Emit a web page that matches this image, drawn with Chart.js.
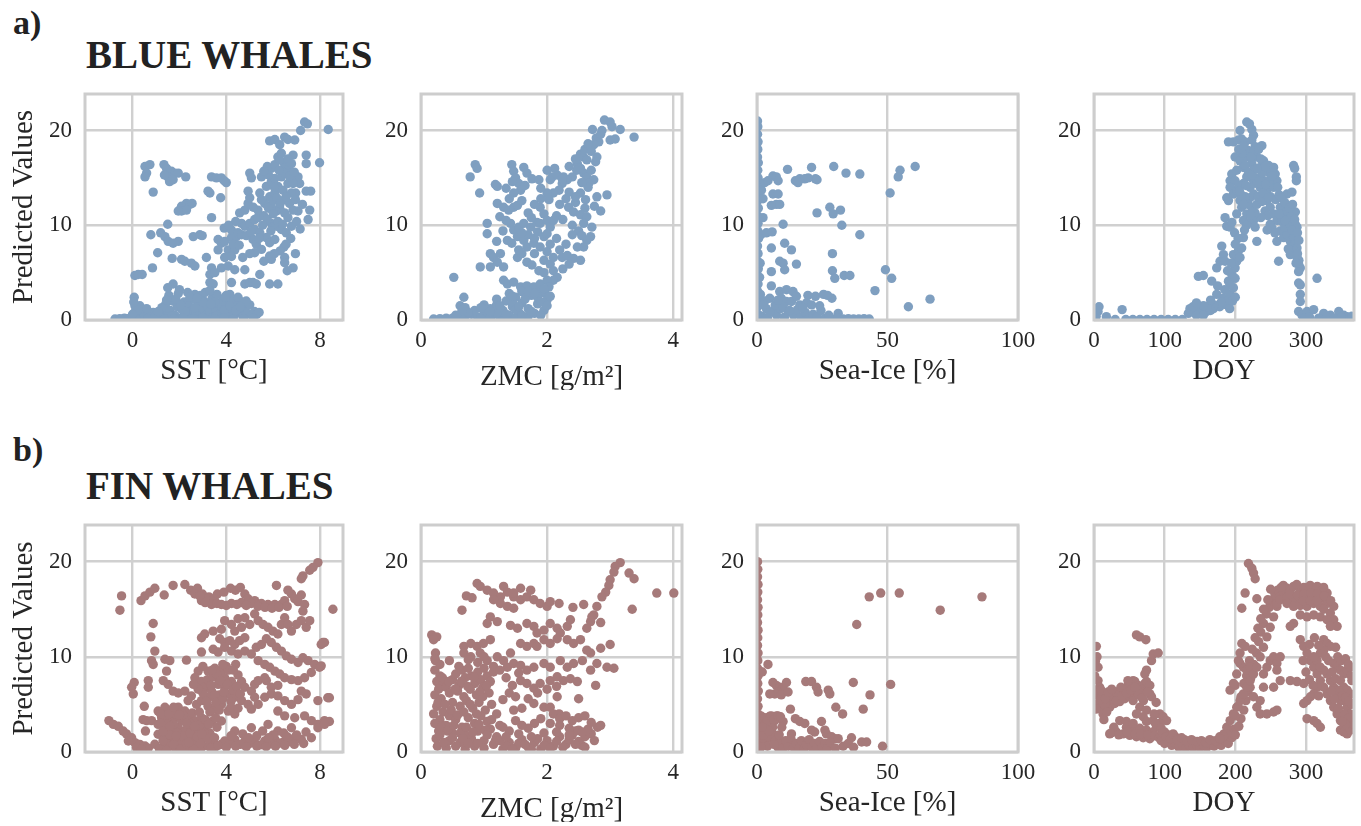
<!DOCTYPE html>
<html><head><meta charset="utf-8">
<script src="https://cdn.jsdelivr.net/npm/chart.js@4.4.0/dist/chart.umd.min.js"></script>
<style>
html,body{margin:0;padding:0;background:#fff;width:1361px;height:826px;overflow:hidden;position:relative;font-family:'Liberation Serif','Times New Roman',serif;color:#222}
.h{position:absolute;font-weight:bold;line-height:1;white-space:nowrap;color:#222}
.box{position:absolute}
</style></head><body>
<div class="h" style="left:13px;top:6px;font-size:34px">a)</div>
<div class="h" style="left:86px;top:35px;font-size:39px">BLUE WHALES</div>
<div class="h" style="left:13px;top:433px;font-size:34px">b)</div>
<div class="h" style="left:86px;top:466px;font-size:39px">FIN WHALES</div>
<script>
// ---------- tick labels & axis texts ----------
const yTicks = [0, 10, 20];
const sstTicks = [0, 4, 8];
const zmcTicks = [0, 2, 4];
const iceTicks = [0, 50, 100];
const doyTicks = [0, 100, 200, 300];
const xLabels = ['SST [°C]', 'ZMC [g/m²]', 'Sea-Ice [%]', 'DOY'];
const yLabel = 'Predicted Values';

// ---------- BLUE WHALES ----------
const blueSST = [[8.35,20.1],[7.34,20.9],[7.46,20.7],[7.17,20.0],[5.85,18.9],[6.07,19.05],[6.49,19.3],[6.63,19.05],[6.92,19.0],[6.28,18.5],[6.2,17.2],[6.85,17.4],[7.41,17.4],[7.41,16.5],[7.98,16.6],[5.75,16.2],[5.92,16.0],[6.49,16.4],[6.63,15.8],[5.0,15.5],[5.07,15.0],[5.5,15.1],[7.06,15.1],[7.13,14.4],[7.41,13.6],[7.6,13.6],[7.56,11.6],[7.49,10.6],[6.96,13.4],[7.06,11.5],
[0.53,16.2],[0.74,16.4],[0.6,15.5],[0.53,15.1],[0.88,13.5],[1.34,16.4],[1.45,16.0],[1.66,15.7],[1.8,15.5],[1.95,15.5],[1.51,15.1],[1.58,14.6],[1.73,14.8],[1.36,15.3],[2.27,15.1],[3.37,15.1],[3.58,15.0],[3.79,15.0],[3.91,14.7],[4.0,14.5],[3.76,12.9],[3.3,13.4],[3.22,13.6],[2.09,12.0],[2.3,12.3],[2.44,12.2],[2.54,12.3],[2.09,11.5],[2.3,11.6],[1.95,11.5],[3.37,10.8],[1.5,10.1],[0.78,9.0],[1.2,9.2],[1.38,8.8],[1.52,8.3],[1.73,8.1],[1.95,8.3],[2.59,8.8],[2.87,9.0],[2.97,8.9],[1.07,7.1],[1.69,6.5],[2.09,6.4],[2.23,6.2],[2.51,6.0],[2.66,5.7],[0.85,5.5],[0.1,4.7],[0.24,4.8],[0.41,4.8],[3.15,6.6],[3.37,5.5],[3.91,9.7],[3.65,8.5],[3.79,8.1],[3.93,8.3],[4.22,8.7],[4.43,8.8],[3.65,7.4],[4.08,7.4],[4.36,7.4],[3.93,6.6],[4.22,6.7],[3.79,5.5],[4.08,5.7],[4.36,5.3],[3.3,4.8],[3.51,5.0],[3.3,3.95],[3.44,3.8],[4.22,3.95],[1.73,3.8],[4.15,2.7],[2.66,2.7],[4.79,5.3],[4.79,3.8],[5.0,3.95],[5.14,3.95],[5.28,3.8],[5.43,4.8],[5.85,3.8],[6.2,3.8],[5.85,6.75],[5.92,6.4],[6.49,6.6],[6.49,6.05],[6.85,5.5],[6.46,7.7],[5.71,8.7],[5.85,8.15],[6.07,8.5],
[4.57,11.3],[4.79,11.6],[4.93,12.3],[5.0,12.9],[4.93,13.6],[4.65,10.2],[4.79,9.9],[5.0,10.2],[5.21,10.6],[5.35,10.8],[4.22,9.5],[4.5,9.2],[4.65,9.0],[5.14,8.5],[5.28,8.0],[5.5,7.45],[5.21,7.1],[5.21,9.55],[5.43,9.2],[5.92,10.2],[6.14,9.9],[6.35,9.55],[6.56,9.2],[6.78,9.9],[5.64,12.3],[5.85,13.0],[6.07,13.4],[6.2,14.1],[6.42,13.7],[6.63,14.4],[6.78,14.8],[5.71,14.1],[5.92,14.6],[6.07,14.95],[6.35,15.1],[6.49,15.5],[5.43,13.4],[5.5,12.7],[6.49,12.7],[6.7,12.3],[6.85,11.6],[5.92,12.0],[6.14,11.5],[6.28,11.8],[6.49,11.3],[6.63,10.8],[6.78,13.4],[6.85,14.4],[6.07,16.4],[6.28,16.9],[6.63,17.0],[6.78,16.5],[6.35,17.6],
[5.6,11.0],[5.75,10.6],[5.8,11.8],[6.0,12.6],[6.15,12.9],[6.3,12.3],[6.0,11.2],[5.55,10.0],[5.9,9.4],[6.2,10.4],[6.4,10.1],[6.55,13.0],[6.7,15.2],[6.9,15.6],[6.05,14.0],[5.8,15.3],[5.6,15.7],[6.25,15.8],[5.35,11.6],[5.15,11.9],[4.4,10.4],[4.1,10.0],[4.3,8.0],[4.85,8.9],[5.05,9.3],[5.4,8.6],[5.0,7.0],[4.7,6.6],[4.55,7.9],[6.95,12.7],[7.25,12.2],[7.0,10.4],[7.15,9.6],[6.75,8.6],[6.55,8.0],[6.95,7.0],[6.3,7.3],[6.05,7.0],[6.6,5.2],[5.6,6.2],
[-0.75,0.1],[-0.55,0.15],[-0.35,0.2],[-0.2,0.15],[-0.05,0.3],[0.07,2.4],[0.1,1.5],[0.31,1.5],[0.1,0.8],[0.53,0.6],[0.88,0.8],[0.2,0.4],[0.4,0.9],[0.6,1.2],[0.25,1.1],[0.75,0.3],[1.0,0.5],
[1.3,0.8],[1.4,1.6],[1.5,0.3],[1.6,1.0],[1.7,2.0],[1.8,0.5],[1.9,1.4],[2.0,0.2],[2.1,1.1],[2.2,1.9],[2.3,0.6],[2.4,1.5],[2.5,0.3],[2.55,1.0],[2.6,2.2],[2.7,0.7],[2.8,1.6],[2.9,0.4],[3.0,1.2],[3.05,2.0],[3.15,0.5],[3.2,1.4],[3.3,0.9],[3.4,2.3],[3.45,0.3],[3.55,1.1],[3.6,1.8],[3.7,0.6],[3.8,1.4],[3.85,2.2],[3.95,0.8],[4.0,1.7],[4.1,0.4],[4.2,1.2],[4.3,2.0],[4.35,0.6],[4.45,1.5],[4.55,0.9],[4.65,1.9],[4.7,0.4],[4.8,1.2],[4.9,0.7],[5.0,1.6],[5.1,0.5],[5.2,0.9],[5.3,0.6],[5.4,0.8],[1.55,2.6],[1.95,2.8],[2.35,2.9],[2.9,2.6],[3.1,2.9],[3.6,2.7],[4.0,2.6],[4.5,2.4],[2.25,0.9],[2.65,1.3],[3.55,0.4],[3.9,1.0],[1.2,0.3],[1.65,0.4],[4.15,1.5],[2.0,3.2],[1.5,3.4],[3.3,3.1],
[1.35,0.1],[1.75,0.15],[2.15,0.2],[2.6,0.15],[3.0,0.25],[3.5,0.15],[3.9,0.2],[4.3,0.1],[4.75,0.15],[5.15,0.2],[1.25,1.3],[1.85,2.2],[2.45,2.4],[3.0,1.9],[3.5,1.9],[3.95,2.4],[4.4,1.0],[4.85,2.0],[2.05,1.6],[2.75,2.3],[3.35,1.7],[4.6,1.4],[1.45,2.1],[0.45,0.2],[0.65,0.15],[0.9,0.1],[1.1,0.9],[0.15,0.1],[-0.5,0.05],[0.0,0.6],[0.05,1.9]];

const blueZMC = [[2.91,21.1],[3.0,20.9],[3.03,20.4],[2.72,20.1],[2.87,20.0],[3.16,20.1],[3.38,19.3],[2.78,19.2],[2.82,18.8],[2.74,18.5],[3.0,19.0],[3.08,19.1],[2.53,17.5],[2.58,17.2],[2.63,16.9],[2.48,16.5],[2.53,16.0],[2.58,15.5],[2.63,15.1],[2.74,14.8],[2.66,14.4],[2.79,17.2],[2.77,16.7],[2.47,15.8],[2.4,15.1],[2.32,14.8],[2.26,15.1],[2.24,14.4],[2.19,13.7],[2.1,13.4],[2.95,13.2],[2.79,13.0],[2.65,14.0],[2.53,13.4],[2.61,12.7],[2.34,11.9],[2.42,11.4],[2.53,11.1],[2.63,10.9],[2.58,10.2],[2.71,9.8],[2.69,8.8],[2.63,8.4],[2.58,7.7],[2.48,7.7],[0.86,16.4],[0.89,16.0],[0.78,15.1],[0.93,13.4],[1.18,14.3],[1.21,14.1],[1.44,16.4],[1.47,15.7],[1.5,15.0],[1.63,16.1],[1.68,15.5],[1.76,14.9],[1.87,14.8],[1.55,14.4],[1.58,13.7],[1.47,13.4],[1.21,12.3],[1.31,11.9],[1.39,11.6],[1.47,11.9],[1.53,12.1],[1.05,10.2],[1.05,9.1],[1.42,10.2],[1.47,9.5],[1.55,9.8],[1.63,10.2],[1.74,9.8],[1.84,10.3],[1.89,10.2],[1.37,8.4],[1.44,8.1],[1.53,8.8],[1.63,8.4],[1.68,7.7],[1.79,8.1],[1.89,7.7],[1.95,8.8],[1.89,11.9],[1.95,11.2],[2.0,10.5],[2.05,9.8],[2.1,10.5],[2.0,9.1],[2.0,13.4],[2.03,12.7],[2.05,14.8],[2.08,15.1],[2.16,15.3],[2.24,14.9],[1.1,7.0],[1.15,6.6],[1.26,7.0],[1.21,6.1],[1.31,5.6],[0.94,5.6],[1.1,5.6],[0.52,4.5],[0.68,2.4],[0.62,1.5],[1.53,6.6],[1.6,7.0],[1.68,6.1],[1.76,5.8],[1.87,5.2],[1.95,6.3],[2.05,5.9],[2.1,5.2],[2.24,6.6],[2.32,6.8],[2.42,6.5],[2.53,6.3],[2.16,4.5],[2.1,4.2],[1.31,4.2],[1.37,3.8],[1.47,4.0],[1.58,3.5],[1.68,3.6],[1.79,3.5],[1.89,3.8],[2.0,4.2],[2.03,3.5],[1.97,2.8],
[2.2,12.2],[2.3,12.8],[2.45,12.4],[2.35,13.5],[2.15,11.0],[2.25,10.6],[2.4,10.0],[2.5,9.4],[2.55,8.9],[2.4,9.0],[2.3,8.0],[2.2,7.4],[2.15,8.6],[2.05,8.0],[1.7,9.0],[1.8,8.6],[1.85,9.3],[1.6,9.2],[1.75,10.8],[1.7,11.3],[1.8,12.2],[1.9,12.8],[1.6,12.6],[1.4,12.8],[1.35,13.9],[1.45,14.6],[1.65,14.2],[1.9,13.9],[2.12,16.0],[2.0,15.8],[2.35,16.2],[2.45,17.0],[2.6,18.0],[2.7,17.8],[2.65,18.6],[2.85,19.6],[2.7,15.8],[2.55,14.5],[2.45,13.0],[2.75,12.0],[2.85,11.5],[2.6,11.8],[1.25,10.9],[1.35,10.5],[1.3,9.4],[1.2,8.3],[1.55,7.4],[1.8,7.0],[2.0,7.2],[2.1,6.6],[1.95,5.0],[2.25,5.4],[2.35,5.9],
[0.2,0.1],[0.3,0.15],[0.4,0.2],[0.5,0.2],[0.6,0.3],[0.7,0.4],[0.8,0.6],[0.9,0.3],[1.0,0.8],[1.05,0.4],[1.1,1.2],[1.15,0.6],[1.2,1.6],[1.25,0.3],[1.3,1.0],[1.35,2.0],[1.4,0.5],[1.45,1.4],[1.5,2.4],[1.55,0.8],[1.6,1.8],[1.65,0.3],[1.7,1.2],[1.75,2.6],[1.8,0.7],[1.85,1.7],[1.9,3.0],[1.95,1.0],[2.0,2.1],[1.6,3.0],[1.4,2.8],[1.2,2.2],[1.0,1.6],[0.85,1.0],[0.7,1.3],[1.3,0.2],[1.5,0.2],[1.7,0.4],[1.9,0.5],[1.85,2.4],[1.65,2.2],[1.45,1.9],
[0.95,0.15],[1.1,0.2],[1.2,0.7],[1.35,0.6],[1.5,1.1],[1.6,0.5],[1.75,0.9],[1.9,1.9],[2.0,1.5],[1.45,2.5],[1.7,3.0],[1.8,2.8],[1.95,3.3],[2.05,2.5],[1.55,1.4],[1.25,1.5],[1.1,0.9],[0.95,1.3],[0.75,0.8],[0.65,1.0],[0.55,0.5]];

const blueIce = [[0.2,21.0],[0.3,20.4],[0.2,19.6],[0.4,18.8],[0.3,18.0],[0.2,17.2],[0.5,16.6],[0.3,15.8],[0.4,15.0],[0.2,14.2],[0.6,13.4],[0.3,12.6],[0.5,11.8],[0.2,11.0],[0.4,10.2],[0.3,9.4],[0.6,8.6],[0.2,7.8],[0.4,7.0],[0.3,6.2],[0.5,5.4],[0.2,4.6],[0.4,3.8],[0.3,3.0],[0.5,2.2],[0.2,1.4],[0.4,0.6],[0.3,0.2],[1.7,13.7],[2.3,12.8],[2.3,10.8],[1.5,9.0],[1.2,6.0],[1.0,4.5],[1.3,2.7],
[11.7,15.9],[2.9,14.5],[4.2,14.7],[6.1,15.2],[7.4,15.1],[8.1,14.7],[20.9,16.1],[22.4,14.9],[23.0,14.8],[14.7,14.7],[16.4,14.9],[18.3,14.9],[19.6,15.0],[15.7,14.5],[29.4,16.2],[34.1,15.5],[39.4,15.4],[54.8,15.8],[54.1,15.1],[60.6,16.2],[51.0,13.4],[6.1,13.3],[8.1,13.3],[5.5,12.1],[7.4,12.2],[8.7,12.2],[3.6,9.2],[5.8,9.3],[10.0,10.1],[23.0,11.3],[27.9,11.9],[29.2,11.2],[32.0,11.6],[32.5,10.0],[39.4,9.0],[5.5,7.6],[10.6,8.1],[13.2,7.4],[8.7,6.2],[10.0,6.0],[10.6,5.3],[5.5,5.1],[15.1,5.9],[28.9,7.0],[28.9,5.2],[29.8,4.4],[33.4,4.7],[35.6,4.7],[49.2,5.3],[51.6,4.4],[5.5,3.6],[45.2,3.1],[66.3,2.2],[58.0,1.4],[8.7,3.0],[11.3,3.2],[13.8,3.0],[9.3,2.3],[11.3,1.95],[13.2,1.95],[15.1,2.5],[16.4,1.6],[19.0,1.8],[20.9,1.6],[22.4,2.5],[25.5,2.7],[28.7,2.3],[31.1,0.7],[4.9,2.3],[6.1,0.9],[3.6,1.2],
[2.0,0.4],[4.0,0.2],[7.5,0.5],[9.0,1.2],[10.5,0.3],[12.0,0.9],[14.0,0.5],[15.5,1.1],[17.0,0.3],[18.5,0.8],[20.0,0.2],[21.5,0.6],[23.0,0.3],[24.5,1.0],[26.0,0.2],[27.5,0.5],[29.0,0.1],[31.0,0.2],[33.0,0.1],[35.0,0.15],[37.0,0.1],[39.0,0.1],[41.0,0.15],[43.0,0.1],[3.0,2.0],[7.0,1.6],[10.0,1.4],[12.5,1.0],[17.5,1.3],[19.5,2.6],[24.0,1.5],[27.0,2.6],[5.0,0.8],[8.0,2.1],[2.5,1.6]];

const blueDOY = [[7.1,1.4],[5.7,0.9],[3,0.4],[17.5,0.35],[39.8,1.1],[30,0.05],[45,0.05],[55,0.05],[65,0.05],[75,0.05],[85,0.05],[95,0.05],[105,0.05],[115,0.05],[125,0.05],[2,0.2],
[135.8,1.2],[140.6,0.9],[150,1.1],[159.5,0.9],[169,1.2],[178,1.4],[187.9,1.6],[133.5,0.7],[145,0.5],[154.8,0.5],[147.7,4.6],[154.8,4.7],[166.6,4.1],[173.7,5.5],[178.4,6.2],[183.2,6.9],[185.5,6.2],[180.8,7.8],[173.7,2.7],[183.2,2.3],[187.9,1.95],[192.6,2.7],[197.3,3.4],[190.3,4.1],[195,4.8],[199.7,5.5],[202,6.2],[197.3,6.9],[204.4,7.3],[206.7,6.6],[209,7.6],[199.7,4.4],[192.6,3.7],[185.5,10.8],[187.9,9.9],[192.6,9.8],[187.9,12.9],[190.3,12.6],[192.6,14.7],[190.3,18.8],[197.3,18.8],[204.4,19.0],[206.7,20.0],[216.2,20.9],[220,20.7],[223.4,20.1],[225.8,19.5],[223.4,19.0],[209,19.1],[213.9,18.8],[228.1,18.3],[237.6,18.4],[199.7,17.2],[206.7,16.8],[211.5,16.1],[216.2,17.2],[202,15.8],[195,15.4],[199.7,14.7],[192.6,14.0],[197.3,13.3],[202,13.7],[206.7,12.6],[209,11.9],[202,11.2],[211.5,10.5],[216.2,11.2],[225.8,10.5],[223.4,11.9],[230.5,12.2],[221,12.9],[211.5,8.7],[230.5,8.3],[223.4,16.5],[230.5,17.2],[235.2,16.1],[240,16.8],[244.7,15.8],[249.4,15.4],[240,14.7],[235.2,14.0],[244.7,13.7],[254.2,14.0],[258.9,14.7],[256.5,15.4],[254.2,16.1],[247.1,16.3],[225.8,14.7],[230.5,14.4],[221,14.0],[216.2,15.1],[211.5,14.4],[244.7,12.6],[249.4,11.9],[254.2,11.2],[258.9,10.5],[249.4,10.1],[263.6,11.9],[268.4,11.2],[273.1,11.5],[273.1,13.3],[280.2,13.5],[282.5,16.3],[284,16.0],[286.4,15.1],[286.4,14.7],[258.9,8.3],[261.3,6.2],[263.6,9.4],[268.4,8.7],[273.1,9.0],[277.8,8.3],[282.5,8.7],[284.9,8.0],[287.3,7.6],[282.5,7.3],[277.8,6.9],[287.3,6.6],[289.6,5.9],[292,5.5],[284.9,10.1],[287.3,9.8],[289.6,5.1],[289.6,3.9],[292,3.7],[292,2.7],[292,1.95],[289.6,0.9],[294.4,0.5],[315.7,4.4],[301.5,0.9],[310.9,1.1],[325.1,0.7],[334.6,0.5],[346.4,0.9],[353.5,0.5],[358.3,0.35],[298,0.2],[305,0.3],[318,0.2],[330,0.3],[340,0.2],[350,0.25],[362,0.2],[365,0.4],
[214,13.0],[218,12.2],[226,13.3],[232,13.0],[238,12.5],[242,11.5],[246,11.0],[236,10.8],[228,11.3],[220,10.3],[214,16.3],[219,15.6],[228,15.9],[233,15.0],[238,15.5],[250,13.0],[257,12.7],[262,13.2],[266,10.4],[270,9.8],[276,10.2],[280,9.5],[285,11.4],[252,9.7],[256,9.2],[245,9.5],[218,17.9],[226,17.8],[233,18.0],[210,17.6],[205,14.2],[208,13.2],[195,10.3],[199,9.2],[204,8.6],[200,8.0],[194,6.0],[189,5.2],[185,3.2],[180,1.9],[170,1.6],[165,1.0],[160,1.4],[175,3.6],[165,2.1],[155,1.5],[140,1.4],[145,1.8],[192,1.2],[196,2.0],[200,2.4],
[205,18.0],[212,18.4],[222,17.2],[236,17.0],[242,16.2],[248,14.7],[252,15.2],[260,14.0],[265,12.9],[270,12.4],[276,11.8],[281,12.2],[279,10.9],[284,10.6],[288,9.2],[290,8.4],[288,7.0],[290,6.3],[286,6.0],[275,7.5],[270,10.5],[262,11.2],[215,14.2],[224,15.3],[231,16.0],[239,13.4],[243,14.3],[247,12.9],[206,13.6],[212,12.2],[216,10.0],[222,11.1],[228,9.8],[213,9.5]];

// ---------- FIN WHALES ----------
const finSST = [[7.91,19.9],[7.7,19.4],[7.56,19.1],[7.27,18.5],[7.2,18.2],[8.55,15.0],[-0.47,16.4],[-0.54,14.9],[0.36,15.9],[0.53,16.4],[0.74,16.8],[0.95,17.2],[1.35,16.5],[1.73,17.5],[2.23,17.6],[0.88,13.5],[0.78,12.1],[0.95,10.6],[0.81,9.6],[0.88,9.2],[1.38,9.75],[1.59,9.6],[1.45,8.5],[2.3,9.65],[2.8,8.5],[0.07,7.3],[-0.04,6.8],[0.03,6.1],[0.67,7.5],[0.67,6.8],[1.31,7.5],[1.52,7.1],[1.73,6.4],[1.95,6.2],[0.5,4.8],[0.45,3.4],[0.6,3.3],[0.81,3.3],[0.55,2.2],[-1.01,3.3],[-0.82,2.9],[-0.61,2.7],[-0.4,2.2],[-0.26,1.9],[-0.04,1.5],[0.1,0.98],[0.31,0.8],[0.53,0.63],[0.67,0.39],[-0.18,1.16],[0.17,0.46],[0.38,0.28],
[2.48,17.0],[2.77,17.2],[2.98,16.6],[3.26,16.3],[3.48,16.1],[3.62,16.6],[3.9,16.8],[4.18,17.2],[4.39,17.0],[4.6,17.3],[4.79,16.6],[4.93,16.1],[5.21,15.9],[5.5,15.6],[5.78,15.5],[6.07,15.5],[6.35,15.5],[6.49,15.9],[6.78,16.6],[6.14,17.5],[6.63,17.0],[6.92,16.1],[7.06,15.8],[7.2,16.5],[7.34,15.5],[7.27,14.8],[2.94,15.9],[3.37,15.5],[3.79,15.5],[4.22,15.6],[4.65,15.7],[5.07,15.6],[2.66,16.6],[2.87,16.4],[3.1,15.7],[3.6,15.6],[4.0,15.4],[4.45,15.5],[4.85,15.4],[5.35,15.3],[5.65,15.2],[5.95,15.1],[6.25,15.2],[6.6,15.3],
[2.94,12.0],[3.08,12.4],[3.44,12.7],[3.79,12.9],[3.93,13.8],[4.22,13.4],[4.5,14.0],[4.79,14.1],[5.0,13.4],[4.65,13.1],[4.36,12.7],[5.21,14.5],[5.36,13.8],[5.57,13.4],[5.78,13.1],[5.99,12.7],[6.2,12.4],[6.35,13.4],[6.49,14.1],[6.63,13.4],[6.78,12.7],[6.99,13.4],[7.2,13.8],[7.41,13.1],[7.56,13.8],[3.72,11.9],[3.93,11.5],[4.15,11.7],[4.36,11.3],[4.57,11.7],[4.79,12.0],[3.44,10.8],[3.65,10.5],[3.93,11.0],[4.22,10.6],[4.5,10.3],[4.79,10.6],[5.07,10.3],[2.94,10.5],[5.28,11.0],[5.5,11.3],[5.71,11.9],[5.92,11.5],[6.14,11.0],[6.35,10.6],[6.56,10.1],[6.78,9.75],[7.06,9.4],[7.27,9.9],[7.49,9.6],[7.77,9.2],[8.05,11.3],[8.19,11.5],[5.36,9.6],[5.64,9.2],[5.85,8.9],[6.07,8.5],[6.28,8.2],[6.49,7.8],[6.78,7.6],[7.06,7.5],[7.34,7.8],[7.63,8.35],[7.98,8.9],[5.71,7.5],[5.92,6.8],[6.2,7.0],[7.2,6.4],[7.41,6.1],[7.06,5.5],[7.91,5.4],[8.33,5.7],
[2.66,7.8],[2.94,7.4],[3.22,8.5],[3.51,8.8],[3.79,8.5],[3.93,7.8],[4.22,7.4],[4.5,8.1],[4.65,7.4],[4.79,6.8],[5.07,6.4],[5.21,7.1],[5.36,7.5],[5.64,7.8],[3.08,6.8],[3.37,6.4],[3.65,7.1],[3.93,6.8],[4.08,6.1],[4.36,5.75],[4.65,5.4],[4.93,5.0],[5.07,4.5],[5.21,5.75],[5.36,5.0],[5.64,5.75],[5.92,6.1],[6.2,5.9],[6.49,5.4],[6.78,5.0],[2.23,6.4],[2.51,5.9],[2.37,5.4],[2.73,5.0],[2.94,5.4],[3.22,4.8],[3.51,4.5],[3.79,5.0],[4.08,4.3],[4.36,4.0],[3.2,7.6],[3.45,7.9],[3.7,6.0],[3.85,5.6],[3.3,5.8],[3.6,8.2],[4.0,9.0],[4.4,9.2],[4.1,8.6],[3.0,9.0],
[6.2,4.3],[6.49,3.8],[6.92,3.6],[7.34,3.8],[7.63,3.3],[7.91,2.9],[8.19,3.3],[8.4,3.2],[8.12,11.5],[8.05,9.05],[8.4,5.7],
[1.09,4.3],[1.38,4.7],[1.66,4.3],[1.95,4.7],[2.23,4.3],[1.24,3.6],[1.52,3.3],[1.8,3.6],[2.09,3.3],[2.37,3.6],[2.66,3.3],[2.94,3.6],[1.09,2.9],[1.38,2.55],[1.66,2.2],[1.95,2.55],[2.23,2.2],[2.51,2.55],[2.8,2.2],[3.08,2.55],[1.09,1.86],[1.38,1.5],[1.66,1.16],[1.95,1.5],[2.23,1.16],[2.51,1.5],[2.8,1.16],[3.08,1.5],[3.37,1.16],[0.95,0.81],[1.24,0.46],[1.52,0.81],[1.8,0.46],[2.09,0.81],[2.37,0.46],[2.66,0.81],[2.94,0.46],[3.22,0.63],[3.51,0.46],[3.79,0.81],[1.2,3.0],[1.5,2.0],[1.75,2.9],[2.0,1.0],[2.15,3.9],[2.45,3.0],[2.7,1.8],[2.9,2.9],[3.3,2.0],[3.4,3.2],[3.6,2.6],[1.45,3.9],[1.85,4.0],
[3.93,1.16],[4.36,1.33],[4.79,1.16],[5.21,0.98],[5.64,1.16],[6.07,1.33],[6.49,1.16],[6.92,1.5],[7.2,1.33],[7.63,1.5],[7.91,2.55],[8.19,2.9],[4.36,2.2],[5.07,2.55],[5.78,2.9],[6.2,2.2],[6.78,2.55],[3.79,3.26],[4.15,0.9],[4.6,0.8],[5.0,0.9],[5.45,0.75],[5.9,0.85],[6.3,0.95],[6.7,1.1],[7.0,1.8],[7.4,2.1],[4.7,1.9],[5.3,1.7],[5.55,2.2],[6.0,1.8],[6.45,2.0],
[1.15,0.3],[1.3,1.2],[1.45,0.2],[1.6,1.8],[1.75,0.8],[1.9,2.0],[2.05,0.3],[2.15,1.7],[2.3,0.9],[2.45,2.0],[2.6,0.3],[2.75,1.6],[2.9,0.9],[3.05,2.0],[3.2,1.4],[3.35,0.4],[3.5,1.5],[3.65,0.7],[1.2,4.0],[1.55,4.0],[1.75,4.7],[2.0,3.9],[2.3,3.0],[2.55,4.1],[2.85,4.2],[3.1,3.4],[3.3,4.2],[3.55,3.6],[3.7,4.4],[1.3,2.2],[1.6,2.7],[1.85,1.7],[2.4,1.0],[2.65,2.7],[2.95,1.9],[3.25,2.9],
[3.0,6.2],[3.15,5.3],[3.35,7.0],[3.5,6.0],[3.55,5.2],[3.75,7.5],[3.9,6.3],[4.05,7.1],[4.2,5.3],[4.3,6.5],[4.45,6.9],[4.6,6.1],[4.2,4.7],[4.5,4.6],[3.4,8.6],[3.85,9.2],[4.3,8.6],[2.8,6.6],[2.6,7.1],
[4.0,0.5],[4.4,0.6],[4.85,0.55],[5.3,0.6],[5.7,0.55],[6.1,0.6],[6.5,0.7],[6.9,0.8],[7.3,0.9],[4.2,1.7],[4.95,1.5],[5.8,1.5],[6.6,1.6]];

const finZMC = [[3.16,19.9],[3.08,19.5],[3.06,18.9],[3.0,18.1],[2.98,17.5],[2.93,16.8],[2.87,16.3],[2.79,15.3],[2.74,14.4],[2.69,13.7],[2.63,13.0],[3.3,18.8],[3.38,18.2],[3.35,15.0],[3.74,16.7],[4.01,16.7],[2.41,15.2],[2.58,15.5],[2.71,14.2],[2.85,13.6],[3.0,11.3],[2.85,10.9],[2.69,10.4],[2.56,9.6],[2.79,9.3],[2.95,8.9],[3.06,8.8],[2.69,8.6],[2.63,10.7],[2.77,7.0],[0.17,12.3],[0.25,12.1],[0.23,10.4],[0.23,9.6],[0.65,14.9],[0.72,16.4],[0.81,16.2],[0.89,17.7],[0.94,17.4],[1.05,17.0],[1.15,16.7],[1.26,16.3],[1.31,17.4],[1.37,16.8],[1.47,16.3],[1.58,16.0],[1.68,16.3],[1.79,16.0],[1.74,17.0],[1.58,17.2],[1.47,16.7],[1.89,15.6],[2.0,15.3],[2.05,15.8],[1.26,15.6],[1.37,15.3],[1.47,15.1],[1.15,16.0],[2.19,15.6],[1.1,14.2],[1.21,13.7],[1.05,13.5],[1.42,13.3],[1.53,13.0],[1.68,13.5],[1.79,13.2],[1.84,12.5],[1.95,12.8],[2.05,13.5],[2.16,13.0],[2.21,12.5],[2.32,13.2],[2.37,13.9],[1.58,11.4],[1.68,11.1],[1.79,11.4],[1.84,11.1],[1.95,11.8],[2.05,11.4],[2.16,11.9],[2.32,11.8],[2.42,11.4],[2.53,11.8],[0.68,11.1],[0.79,11.4],[0.89,11.1],[0.99,11.4],[1.1,11.8],[0.68,10.4],[0.79,10.0],[0.94,10.4],[1.05,9.6],[1.21,10.0],[1.31,9.6],[1.42,10.4],[1.37,8.9],[1.47,9.3],[1.58,9.1],[1.68,8.6],[1.79,8.9],[1.95,9.3],[2.05,8.9],[2.21,9.6],[2.32,8.9],[2.42,9.3],[1.58,7.5],[1.68,7.2],[1.79,6.7],[1.89,7.2],[2.05,7.5],[2.16,7.9],[2.26,7.5],[2.37,7.7],[2.48,7.4],[1.47,4.4],[1.79,5.1],[1.95,4.7],[2.05,4.7],[2.16,5.8],[2.19,4.0],[2.5,5.6],
[0.22,8.6],[0.3,8.0],[0.25,7.4],[0.35,7.2],[0.28,6.6],[0.4,6.8],[0.22,6.0],[0.32,5.6],[0.45,6.2],[0.5,7.6],[0.55,8.2],[0.6,7.0],[0.65,8.6],[0.7,7.8],[0.75,8.8],[0.8,8.0],[0.85,7.2],[0.9,8.4],[0.95,7.6],[1.0,8.8],[1.05,8.0],[1.1,7.4],[1.15,8.4],[0.58,6.4],[0.68,5.8],[0.78,6.6],[0.88,6.0],[0.98,6.8],[1.08,6.2],[0.5,5.2],[0.62,4.8],[0.72,5.4],[0.82,4.6],[0.92,5.2],[1.02,4.4],[0.25,4.8],[0.35,4.2],[0.45,3.8],[0.3,3.4],[0.22,3.0],[0.4,2.8],[0.55,3.4],[0.65,2.6],[0.75,3.6],[0.85,3.0],[0.95,3.8],[1.05,3.2],[0.28,2.2],[0.5,2.0],[0.7,1.8],[0.9,2.2],[1.1,2.4],[0.24,1.4],[0.45,1.2],[0.62,1.0],[0.8,1.4],[1.0,1.2],[0.26,0.6],[0.4,0.4],[0.55,0.6],[0.7,0.3],[0.85,0.6],[1.0,0.4],[1.15,0.8],[1.2,1.6],[1.25,2.8],[1.2,4.0],[0.3,9.2],[0.6,9.0],[0.9,9.4],[1.15,9.0],
[0.2,4.0],[0.27,5.2],[0.38,5.0],[0.48,4.4],[0.58,3.9],[0.68,4.2],[0.78,5.0],[0.88,4.0],[0.98,5.8],[1.12,5.0],[0.32,2.6],[0.42,2.2],[0.52,2.8],[0.62,2.0],[0.72,2.6],[0.82,2.1],[0.92,2.9],[1.02,2.3],[1.12,3.4],[0.3,1.8],[0.36,1.0],[0.5,1.5],[0.66,1.4],[0.75,0.9],[0.9,0.9],[1.05,1.8],[1.18,1.2],[0.34,7.8],[0.44,7.4],[0.54,6.6],[0.64,7.4],[0.74,6.9],[0.84,7.9],[0.94,6.4],[1.04,7.0],[0.22,9.8],[0.2,11.8],[0.45,9.6],[0.75,9.7],[1.0,10.0],
[1.3,0.3],[1.4,1.0],[1.5,0.4],[1.6,1.3],[1.7,0.5],[1.8,1.0],[1.9,0.3],[2.0,1.2],[2.1,0.6],[2.2,1.6],[2.3,0.8],[2.4,1.8],[2.5,1.1],[2.6,1.6],[2.7,1.9],[2.8,2.6],[2.65,2.4],[2.45,2.2],[1.35,0.7],[1.55,0.9],[1.75,0.3],[1.95,0.7],[2.15,1.1],[2.35,1.3],[2.55,0.7],[2.1,4.0],[2.2,3.5],[2.3,3.8],[2.4,3.3],[2.5,3.6],[2.6,3.8],[2.7,3.1],[2.85,2.8],[2.2,2.8],[2.35,2.5],[2.5,2.3],[2.05,3.0],[1.9,3.5],[1.8,3.0],[1.7,2.5],[1.6,2.8],[1.5,3.3],[1.4,2.2],[1.3,2.6],[1.3,5.5],[1.4,6.2],[1.45,7.0],[1.35,7.8],[1.25,8.6],[1.55,8.3],[1.7,5.6],[1.85,6.2],[2.0,6.6],[2.15,6.9],[1.6,4.6],[1.5,5.8],
[1.25,1.2],[1.45,0.3],[1.65,0.8],[1.85,1.4],[2.05,0.4],[2.25,0.5],[2.45,0.8],[2.6,0.5],[2.75,1.2],[1.35,1.6],[1.55,1.9],[1.75,1.6],[1.95,2.0],[2.15,2.1],[2.35,1.8],[2.55,2.1]];

const finIce = [[0.2,20.0],[0.3,19.2],[0.2,18.4],[0.4,17.6],[0.3,16.8],[0.2,16.0],[0.4,15.2],[0.3,14.4],[0.2,13.6],[0.4,12.8],[0.3,12.0],[0.2,11.2],[0.4,10.4],[0.3,9.6],[1.0,8.5],[0.2,8.8],[0.4,8.0],[0.3,7.2],[0.5,6.4],[0.2,5.6],[0.4,4.8],[0.3,4.0],[0.5,3.2],[0.2,2.4],[0.4,1.6],[0.3,0.8],[0.2,0.3],
[43.0,16.3],[47.4,16.7],[54.5,16.7],[86.2,16.3],[70.2,14.9],[38.2,13.4],[4.2,9.2],[2.0,8.4],[6.1,7.3],[7.4,7.0],[8.7,6.8],[10.0,6.7],[8.1,6.3],[6.8,6.1],[9.3,6.0],[11.9,6.3],[11.3,7.3],[4.9,6.1],[18.7,7.4],[20.9,7.4],[22.8,6.8],[23.4,6.3],[27.3,6.5],[27.9,6.1],[36.9,7.3],[51.2,7.1],[43.3,6.0],[30.2,4.7],[32.8,4.0],[40.7,4.5],[12.8,4.5],[10.0,3.2],[13.2,1.9],[14.7,3.5],[16.4,3.2],[18.3,3.0],[20.9,2.3],[22.1,2.1],[24.7,3.2],[26.0,2.3],[26.6,1.9],[28.6,1.6],[29.8,1.4],[31.1,1.4],[36.2,1.5],[40.1,1.05],[42.0,1.05],[48.1,0.6],[4.9,3.75],[2.9,3.2],[6.8,3.3],[3.6,2.3],[6.1,1.9],
[1.5,3.8],[2.5,3.0],[3.5,2.5],[1.2,2.0],[2.0,1.5],[3.0,1.0],[4.0,0.6],[5.0,1.5],[6.0,2.6],[7.0,1.2],[8.0,0.5],[9.0,1.0],[10.0,0.4],[11.0,1.2],[12.0,0.6],[13.0,1.4],[14.0,0.5],[15.0,0.9],[16.0,0.4],[17.0,1.2],[18.0,0.3],[19.0,0.8],[20.0,1.3],[21.0,0.5],[22.0,0.9],[23.0,0.4],[24.0,1.1],[25.0,0.5],[26.0,0.9],[27.0,0.4],[28.0,1.0],[1.5,0.5],[2.5,1.8],[4.5,2.2],[6.5,0.8],[8.5,1.8],[9.5,2.6],[3.0,3.6],[4.0,3.3],[2.0,2.6],[5.5,3.8],[7.5,3.8],[6.5,3.4],[8.0,3.8],[9.0,3.7],[33.0,0.6],[35.0,0.9],[37.0,0.5],[30.0,0.4]];

const finDOY = [[3.3,11.1],[4.3,10.0],[5.7,8.9],[5.7,7.5],[8.0,6.8],[7.1,5.8],[10.4,4.7],[12.8,4.0],[5.7,5.1],[17.5,6.1],[22.2,5.4],[27,5.8],[34.1,6.1],[41.2,6.5],[45.9,6.8],[50.7,7.2],[55.4,7.5],[57.8,7.4],[62.5,7.0],[67.2,6.8],[71.9,7.2],[74.3,7.4],[79,7.0],[22.2,4.7],[29.3,5.1],[36.4,5.3],[43.5,5.6],[50.7,5.8],[57.8,6.1],[60.1,12.3],[64.8,12.1],[73.4,11.8],[81.4,9.6],[83.8,10.3],[90.9,10.4],[74.3,8.6],[71.9,8.2],[79,6.1],[81.4,5.8],[55.4,5.4],[64.8,4.7],[74.3,4.4],[60.1,4.0],[69.6,3.7],[93.2,4.0],[97.9,3.7],[102.7,3.3],[93.2,3.0],[88.5,2.6],[22.2,1.9],[31.7,2.1],[41.2,1.9],[50.7,1.75],[60.1,1.6],[69.6,1.5],[79,1.4],[45.9,2.6],[55.4,2.3],[64.8,2.5],[74.3,2.3],[83.8,2.1],[36.4,3.3],[45.9,3.2],[55.4,3.0],[74.3,3.2],[83.8,3.3],[2,9.5],[1,8.0],[2,6.5],[3,4.5],[12,6.0],[15,5.0],[9,5.5],[30,6.3],[38,6.8],[48,7.5],[65,6.2],[85,4.0],[88,5.2],[70,5.4],[28,2.6],[14,3.4],[18,4.2],
[10,6.5],[16,5.6],[20,6.3],[25,6.6],[32,5.4],[40,5.9],[46,6.2],[52,6.5],[58,6.8],[63,6.0],[68,5.7],[76,6.3],[24,2.0],[35,1.8],[47,2.1],[58,1.9],[66,1.9],[76,1.8],[86,1.7],[92,1.5],[87,3.0],[95,2.5],[100,2.1],[105,1.8],[115,1.6],[128,1.3],[142,1.0],[155,1.0],[168,0.8],[182,1.0],[188,1.3],
[95,1.2],[100,0.9],[105,1.1],[110,0.7],[115,0.9],[120,0.5],[125,0.8],[130,0.4],[135,0.7],[140,0.5],[145,0.8],[150,0.4],[155,0.7],[160,0.5],[165,0.9],[170,0.6],[175,1.0],[180,0.7],[185,1.2],[190,0.9],[97,2.0],[102,1.6],[108,1.4],[112,1.9],[118,1.3],[124,1.5],[132,1.1],[138,1.3],[146,1.1],[152,1.2],[158,1.0],[164,1.3],[172,1.2],[178,1.6],[184,1.9],[190,2.3],[195,1.5],[198,2.4],[200,1.8],[205,2.7],[208,3.5],[212,4.4],[215,5.4],[218,6.3],[222,7.8],[226,9.2],[230,10.4],[233,11.6],[236,12.6],[240,13.5],[244,14.5],[248,15.2],[252,15.9],[256,16.5],[260,17.0],[200,3.8],[204,4.8],[208,5.8],[212,7.2],[216,8.0],[220,9.6],[224,10.8],[228,12.0],[232,13.0],[236,14.0],[240,15.0],[246,16.0],[250,17.1],
[218.6,19.8],[223.4,19.3],[225.8,18.8],[228.1,18.2],[213.9,16.7],[230.5,16.1],[209.2,15.1],[209.2,11.4],[213.9,11.1],[206.7,9.3],[211.5,8.9],[216.2,8.6],[221,8.9],[199.7,7.0],[221,6.8],[225.8,5.8],[235.2,5.4],[230.5,4.7],[235.2,4.0],[244.7,4.0],[254.2,4.2],[258.9,4.4],[239.9,8.2],[244.7,8.9],[249.4,9.6],[254.2,10.0],[258.9,9.3],[263.6,10.0],[258.9,8.6],[263.6,7.5],[239.9,6.8],[254.2,6.8],[277.8,7.5],[287.3,7.4],[296.8,7.2],[282.5,13.5],[277.8,13.2],
[187.9,2.6],[192.6,3.3],[197.3,4.0],[202,4.7],[206.7,5.4],[211.5,6.1],[216.2,6.8],[221,7.5],[225.8,8.2],[230.5,8.9],[235.2,10.0],[239.9,11.0],[244.7,12.1],[249.4,13.1],[254.2,14.2],[258.9,15.3],[263.6,16.3],[268.4,16.8],[273.1,17.2],[277.8,17.0],[282.5,17.4],[292,17.0],[301.5,16.8],[311,17.2],[320.4,17.0],[329.9,16.7],[258.9,15.6],[263.6,16.0],[273.1,16.3],[282.5,16.0],[292,16.1],[301.5,16.0],[311,16.3],[320.4,16.1],[329.9,16.0],[273.1,15.6],[282.5,15.3],[292,15.4],[301.5,15.3],[311,15.6],[320.4,15.3],[329.9,15.6],[339.3,15.3],[334.6,14.6],[339.3,13.9],[344.1,13.2],[292,14.4],[301.5,14.2],[311,14.4],[320.4,14.2],[329.9,13.9],[334.6,13.2],[268,17.5],[287,17.6],[297,17.3],[306,17.5],[316,17.4],[325,17.3],
[265,17.3],[278,16.6],[288,16.5],[297,16.6],[307,16.7],[316,16.6],[326,16.4],[335,15.9],[296,15.9],[306,15.9],[315,15.9],[325,15.0],
[292,11.8],[296.8,11.1],[301.5,10.4],[306.3,9.6],[311,8.9],[315.7,8.2],[320.4,7.5],[325.1,6.8],[329.9,6.1],[334.6,5.4],[339.3,4.7],[344.1,4.0],[348.8,3.3],[353.5,2.6],[358.3,2.3],[325.1,11.8],[329.9,11.4],[334.6,11.1],[325.1,10.7],[320.4,10.4],[315.7,9.6],[311,10.0],[339.3,9.3],[344.1,8.9],[348.8,8.6],[353.5,8.2],[358.3,8.6],[363,8.9],[348.8,7.5],[353.5,6.8],[358.3,6.5],[363,6.1],[353.5,5.4],[358.3,4.7],[363,4.0],[358.3,3.3],[353.5,4.0],[348.8,5.4],[344.1,6.1],[339.3,6.8],[334.6,7.5],[329.9,8.2],[325.1,8.6],[320.4,8.9],[315.7,6.8],[311,6.1],[306.3,5.8],[301.5,5.4],[296.8,5.1],[301.5,3.5],[311,3.3],[315.7,3.0],[320.4,2.6],[348.8,2.3],[353.5,2.1],[358.3,1.9],[363,2.3],[365,7.5],[365,5.0],[365,3.0],[296,9.6],[300,8.4],[305,7.6],[310,7.0],[318,5.9],[305,11.3],[312,12.0],[318,11.2],
[342,11.0],[345,10.0],[350,9.6],[356,9.8],[360,9.2],[364,8.0],[337,8.4],[332,9.6],[328,10.0],[342,7.7],[346,6.5],[351,5.9],[356,5.7],[361,5.3],[361,3.6],[356,2.9],[351,3.2],[346,4.6],[340,5.6],[336,6.4],
[192.6,6.5],[197.3,7.2],[202,8.2],[204.4,9.6],[206.7,10.4],[187.9,1.9],[183.2,1.6],[178.4,1.4]];

// ---------- layout / style ----------
const FONT = "'Liberation Serif', 'Times New Roman', serif";
const TXT = '#262626';
const GRID = '#d0d0d0';
const COLS = [
  {L:85,  W:258, min:-2.03, max:8.98, ticks:sstTicks},
  {L:421, W:261, min:0,     max:4.14, ticks:zmcTicks},
  {L:757, W:261, min:0,     max:100,  ticks:iceTicks},
  {L:1094,W:260, min:0,     max:368,  ticks:doyTicks}
];
const ROWS = [
  {T:94,  H:226, color:'#7f9fc0', sets:[blueSST, blueZMC, blueIce, blueDOY]},
  {T:525, H:227, color:'#a67a7a', sets:[finSST, finZMC, finIce, finDOY]}
];

const framePlugin = {
  id:'frame',
  afterDatasetsDraw(chart){
    const {ctx, chartArea:a} = chart;
    ctx.save();
    ctx.strokeStyle = '#cdcdcd';
    ctx.lineWidth = 3;
    ctx.strokeRect(a.left, a.top, a.right - a.left, a.bottom - a.top);
    ctx.restore();
  }
};

ROWS.forEach((row) => {
  COLS.forEach((col, c) => {
    const yW = c === 0 ? 85 : 80;
    const padT = 6, padR = 24, xH = 70;
    const w = yW + col.W + padR, h = padT + row.H + xH;
    const div = document.createElement('div');
    div.className = 'box';
    div.style.left = (col.L - yW) + 'px';
    div.style.top = (row.T - padT) + 'px';
    div.style.width = w + 'px';
    div.style.height = h + 'px';
    const cv = document.createElement('canvas');
    cv.width = w; cv.height = h;
    cv.style.width = w + 'px'; cv.style.height = h + 'px';
    div.appendChild(cv);
    document.body.appendChild(div);
    const pts = row.sets[c].map(p => ({x:p[0], y:p[1]}));
    new Chart(cv, {
      type:'scatter',
      data:{datasets:[{data:pts, backgroundColor:row.color, borderWidth:0, pointRadius:4.7, pointHoverRadius:4.7}]},
      options:{
        responsive:false, animation:false, devicePixelRatio:1, events:[],
        layout:{padding:{top:padT, right:padR, left:0, bottom:0}},
        plugins:{legend:{display:false}, tooltip:{enabled:false}},
        scales:{
          x:{type:'linear', min:col.min, max:col.max,
             afterBuildTicks:s => { s.ticks = col.ticks.map(v => ({value:v})); },
             afterFit:s => { s.height = xH; s.paddingLeft = 0; s.paddingRight = 0; },
             grid:{color:GRID, lineWidth:2.4, drawTicks:false},
             border:{display:false},
             ticks:{font:{family:FONT, size:23}, color:TXT, padding:7, maxRotation:0, autoSkip:false},
             title:{display:true, text:xLabels[c], font:{family:FONT, size:29}, color:TXT,
                    padding:{top:0, bottom:(c === 1 ? -5 : 1)}}},
          y:{type:'linear', min:0, max:23.85,
             afterBuildTicks:s => { s.ticks = yTicks.map(v => ({value:v})); },
             afterFit:s => { s.width = yW; s.paddingTop = 0; s.paddingBottom = 0; },
             grid:{color:GRID, lineWidth:2.4, drawTicks:false},
             border:{display:false},
             ticks:{font:{family:FONT, size:23}, color:TXT, padding:13, autoSkip:false},
             title:{display:c === 0, text:yLabel, font:{family:FONT, size:29}, color:TXT,
                    padding:{top:6.6, bottom:0}}}
        }
      },
      plugins:[framePlugin]
    });
  });
});
</script>
</body></html>
